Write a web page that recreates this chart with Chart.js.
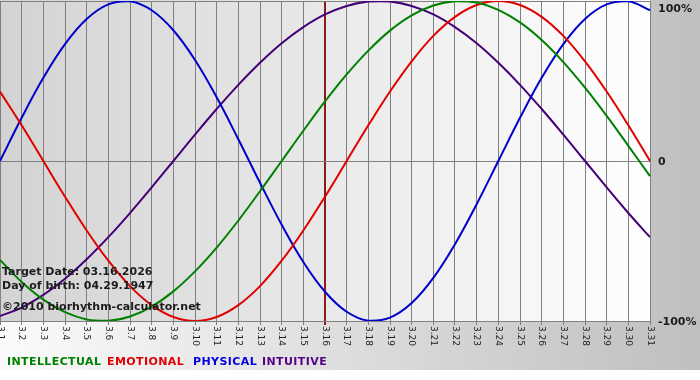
<!DOCTYPE html>
<html>
<head>
<meta charset="utf-8">
<script src="https://cdn.jsdelivr.net/npm/chart.js@4.4.1/dist/chart.umd.min.js"></script>
<style>
  body { margin: 0; background: #fff; }
  #wrap { position: relative; width: 700px; height: 380px; font-family: "DejaVu Sans", Verdana, sans-serif; }
  #chart { position: absolute; left: 0; top: 0; }
  .info { position: absolute; left: 2px; font-weight: bold; font-size: 11px; color: #1c1c1c; white-space: nowrap; line-height: 13px; }
  .leg { position: absolute; top: 355px; font-weight: bold; font-size: 11px; white-space: nowrap; line-height: 14px; letter-spacing: 0.4px; }
</style>
</head>
<body>
<div id="wrap">
  <canvas id="chart" width="700" height="380"></canvas>
  <div class="info" style="top:265px">Target Date: 03.16.2026</div>
  <div class="info" style="top:279px">Day of birth: 04.29.1947</div>
  <div class="info" style="top:300px">©2010 biorhythm-calculator.net</div>
</div>
<script>
const days = [
  "3.1", "3.2", "3.3", "3.4", "3.5", "3.6", "3.7", "3.8", "3.9", "3.10",
  "3.11", "3.12", "3.13", "3.14", "3.15", "3.16", "3.17", "3.18", "3.19", "3.20",
  "3.21", "3.22", "3.23", "3.24", "3.25", "3.26", "3.27", "3.28", "3.29", "3.30", "3.31"
];
const targetDay = "3.16";

const intellectual = [
  -0.618, -0.756, -0.866, -0.945, -0.990, -0.999, -0.972, -0.910, -0.815, -0.690,
  -0.541, -0.372, -0.189, 0.0, 0.189, 0.372, 0.541, 0.690, 0.815, 0.910,
  0.972, 0.999, 0.990, 0.945, 0.866, 0.756, 0.618, 0.458, 0.282, 0.095, -0.095
];
const emotional = [
  0.434, 0.223, 0.0, -0.223, -0.434, -0.623, -0.782, -0.901, -0.975, -1.0,
  -0.975, -0.901, -0.782, -0.623, -0.434, -0.223, 0.0, 0.223, 0.434, 0.623,
  0.782, 0.901, 0.975, 1.0, 0.975, 0.901, 0.782, 0.623, 0.434, 0.223, 0.0
];
const physical = [
  0.0, 0.270, 0.520, 0.731, 0.888, 0.979, 0.998, 0.942, 0.817, 0.631,
  0.398, 0.136, -0.136, -0.398, -0.631, -0.817, -0.942, -0.998, -0.979, -0.888,
  -0.731, -0.520, -0.270, 0.0, 0.270, 0.520, 0.731, 0.888, 0.979, 0.998, 0.942
];
const intuitive = [
  -0.969, -0.916, -0.837, -0.736, -0.614, -0.476, -0.325, -0.165, 0.0, 0.165,
  0.325, 0.476, 0.614, 0.736, 0.837, 0.916, 0.969, 0.997, 0.997, 0.969,
  0.916, 0.837, 0.736, 0.614, 0.476, 0.325, 0.165, 0.0, -0.165, -0.325, -0.476
];

const yTickValues = [1, 0, -1];
const yTickLabels = ["100%", "0", "-100%"];

const seriesNames = ["INTELLECTUAL", "EMOTIONAL", "PHYSICAL", "INTUITIVE"];
const seriesColors = ["#008000", "#e00000", "#0000cc", "#440077"];
const legendColors = ["#008000", "#e00000", "#0000e0", "#550088"];
const legendLeft = [7, 107, 193, 262];

const wrap = document.getElementById("wrap");
seriesNames.forEach((name, i) => {
  const s = document.createElement("div");
  s.className = "leg";
  s.textContent = name;
  s.style.color = legendColors[i];
  s.style.left = legendLeft[i] + "px";
  wrap.appendChild(s);
});

// фоны: общий и области графика
const backgroundPlugin = {
  id: "bg",
  beforeDraw(chart) {
    const { ctx, chartArea: a } = chart;
    ctx.save();
    let g = ctx.createLinearGradient(0, 0, 700, 0);
    g.addColorStop(0, "#fbfbfb");
    g.addColorStop(1, "#bfbfbf");
    ctx.fillStyle = g;
    ctx.fillRect(0, 0, 700, 370);
    g = ctx.createLinearGradient(a.left, 0, a.right, 0);
    g.addColorStop(0, "#d3d3d3");
    g.addColorStop(1, "#ffffff");
    ctx.fillStyle = g;
    ctx.fillRect(a.left, a.top - 1, a.right - a.left, a.bottom - a.top + 1);
    ctx.restore();
  },
};

// подписи осей: даты повернуты по часовой, проценты справа
const labelsPlugin = {
  id: "labels",
  afterDraw(chart) {
    const { ctx, chartArea: a, scales } = chart;
    ctx.save();
    ctx.fillStyle = "#222";
    ctx.font = "9px 'DejaVu Sans'";
    ctx.textAlign = "left";
    ctx.textBaseline = "middle";
    days.forEach((d, i) => {
      const x = scales.x.getPixelForTick(i);
      ctx.save();
      ctx.translate(x, a.bottom + 5);
      ctx.rotate(Math.PI / 2);
      ctx.fillText(d, 0, 0);
      ctx.restore();
    });
    ctx.font = "bold 11px 'DejaVu Sans'";
    ctx.fillStyle = "#1c1c1c";
    yTickValues.forEach((v, i) => {
      const y = Math.max(scales.y.getPixelForValue(v), 8);
      ctx.fillText(yTickLabels[i], a.right + 8, y + 1);
    });
    ctx.restore();
  },
};

function line(data, color) {
  return {
    data: data,
    borderColor: color,
    borderWidth: 2,
    pointRadius: 0,
    tension: 0.4,
    fill: false,
  };
}

new Chart(document.getElementById("chart").getContext("2d"), {
  type: "line",
  data: {
    labels: days,
    datasets: [
      line(intellectual, seriesColors[0]),
      line(emotional, seriesColors[1]),
      line(physical, seriesColors[2]),
      line(intuitive, seriesColors[3]),
    ],
  },
  options: {
    responsive: false,
    animation: false,
    layout: { padding: { left: 0, top: 1, right: 50, bottom: 55 } },
    plugins: { legend: { display: false }, tooltip: { enabled: false } },
    scales: {
      x: {
        offset: false,
        ticks: { display: false },
        grid: {
          color: (c) => (days[c.index] === targetDay ? "#8a1c1c" : "#808080"),
          lineWidth: (c) => (days[c.index] === targetDay ? 2 : 1),
          drawTicks: true,
          tickLength: 4,
        },
        border: { color: "#808080" },
      },
      y: {
        position: "right",
        min: -1,
        max: 1,
        ticks: { display: false, stepSize: 1 },
        grid: { color: "#808080", drawTicks: false },
        border: { color: "#808080" },
      },
    },
  },
  plugins: [backgroundPlugin, labelsPlugin],
});
</script>
</body>
</html>
